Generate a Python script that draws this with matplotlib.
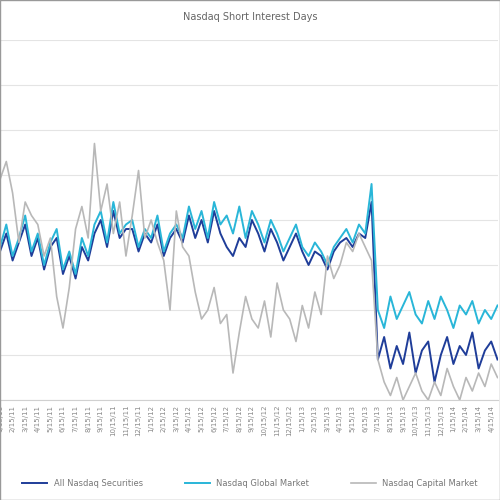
import matplotlib
matplotlib.use("Agg")
import matplotlib.pyplot as plt
import pandas as pd

global_mkt = [3.4,3.9,3.2,3.6,4.1,3.3,3.7,3.0,3.5,3.8,2.9,3.3,2.8,3.6,3.2,3.9,4.2,3.5,4.4,3.7,
              3.9,4.0,3.4,3.8,3.6,4.1,3.3,3.7,3.9,3.6,4.3,3.8,4.2,3.6,4.4,3.9,4.1,3.7,4.3,3.6,
              4.2,3.9,3.5,4.0,3.7,3.3,3.6,3.9,3.4,3.2,3.5,3.3,3.0,3.4,3.6,3.8,3.5,3.9,3.7,4.8,
              2.0,1.6,2.3,1.8,2.1,2.4,1.9,1.7,2.2,1.8,2.3,2.0,1.6,2.1,1.9,2.2,1.7,2.0,1.8,2.1]
all_sec = [3.3,3.7,3.1,3.5,3.9,3.2,3.6,2.9,3.4,3.6,2.8,3.2,2.7,3.4,3.1,3.7,4.0,3.4,4.2,3.6,
           3.8,3.8,3.3,3.7,3.5,3.9,3.2,3.6,3.8,3.5,4.1,3.6,4.0,3.5,4.2,3.7,3.4,3.2,3.6,3.4,
           4.0,3.7,3.3,3.8,3.5,3.1,3.4,3.7,3.3,3.0,3.3,3.2,2.9,3.3,3.5,3.6,3.4,3.7,3.6,4.4,
           0.9,1.4,0.7,1.2,0.8,1.5,0.6,1.1,1.3,0.4,1.0,1.4,0.8,1.2,1.0,1.5,0.7,1.1,1.3,0.9]
capital = [4.9,5.3,4.6,3.5,4.4,4.1,3.9,3.2,3.6,2.3,1.6,2.5,3.8,4.3,3.6,5.7,4.2,4.8,3.7,4.4,
           3.2,4.1,5.1,3.6,4.0,3.5,3.1,2.0,4.2,3.4,3.2,2.4,1.8,2.0,2.5,1.7,1.9,0.6,1.5,2.3,
           1.8,1.6,2.2,1.4,2.6,2.0,1.8,1.3,2.1,1.6,2.4,1.9,3.2,2.7,3.0,3.5,3.3,3.7,3.4,3.1,
           0.9,0.4,0.1,0.5,0.0,0.3,0.6,0.2,0.0,0.4,0.1,0.7,0.3,0.0,0.5,0.2,0.6,0.3,0.8,0.5]
dates = pd.date_range("2011-01-15", periods=len(global_mkt), freq="SMS-15")
labels = [f"{d.month}/{d.day}/{d.year % 100}" for d in dates]

fig = plt.figure(figsize=(5, 5), dpi=100)
ax = fig.add_axes([0.0, 0.2, 0.995, 0.72])
x = range(len(dates))
ax.plot(x, all_sec, color="#1f3d99", lw=1.4, label="All Nasdaq Securities")
ax.plot(x, global_mkt, color="#29b6d8", lw=1.4, label="Nasdaq Global Market")
ax.plot(x, capital, color="#b8b8b8", lw=1.2, label="Nasdaq Capital Market")
ax.set_ylim(0, 8)
ax.set_xlim(0, len(dates) - 1)
ax.set_yticks(range(9))
ax.set_yticklabels([])
ax.tick_params(axis="y", length=0)
ax.grid(axis="y", color="#e4e4e4", lw=0.8)
ax.set_axisbelow(True)
for s in ["top", "right", "left"]:
    ax.spines[s].set_visible(False)
ax.spines["bottom"].set_color("#d0d0d0")
ticks = list(range(0, len(dates), 2))
ax.set_xticks(ticks)
ax.set_xticklabels([labels[i] for i in ticks], rotation=90, fontsize=5, color="#888888")
ax.tick_params(axis="x", length=0)
fig.suptitle("Nasdaq Short Interest Days", y=0.975, fontsize=7, color="#666666")
fig.legend(loc="lower center", bbox_to_anchor=(0.5, 0.01), ncol=3, frameon=False,
           fontsize=6, labelcolor="#777777", handlelength=3, columnspacing=5)
fig.patches.append(plt.Rectangle((0, 0), 1, 1, transform=fig.transFigure,
                                 fill=False, ec="#999999", lw=1))
fig.savefig("out.png", dpi=100)
